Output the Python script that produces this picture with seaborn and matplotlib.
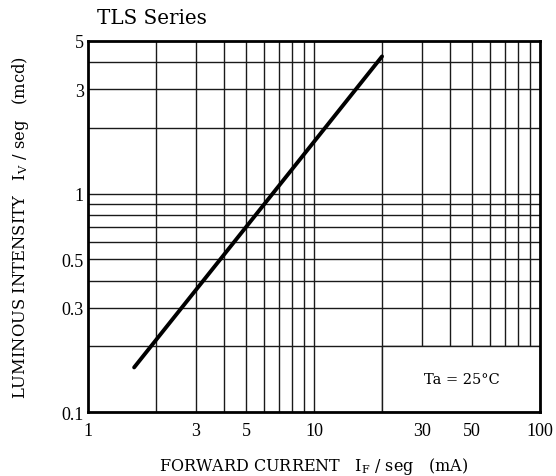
import matplotlib
matplotlib.use("Agg")
import matplotlib.pyplot as plt
from matplotlib.patches import Rectangle
import seaborn as sns
import pandas as pd

# Data
forward_current = [1.6, 20.0]          # mA
luminous_intensity = [0.16, 4.25]      # mcd

x_ticks = [1, 3, 5, 10, 30, 50, 100]
x_ticklabels = ["1", "3", "5", "10", "30", "50", "100"]
y_ticks = [0.1, 0.3, 0.5, 1, 3, 5]
y_ticklabels = ["0.1", "0.3", "0.5", "1", "3", "5"]

x_grid = [2, 3, 4, 5, 6, 7, 8, 9, 10, 20, 30, 40, 50, 60, 70, 80, 90]
y_grid = [0.2, 0.3, 0.4, 0.5, 0.6, 0.7, 0.8, 0.9, 1, 2, 3, 4]

sns.set_theme(style="white")
plt.rcParams["font.family"] = ["DejaVu Serif", "Liberation Serif"]
plt.rcParams["mathtext.fontset"] = "custom"
plt.rcParams["mathtext.rm"] = "DejaVu Serif"
plt.rcParams["mathtext.it"] = "DejaVu Serif"

fig = plt.figure(figsize=(5.56, 4.77), dpi=100)
ax = fig.add_axes([88/556, 1 - 413/477, (540-88)/556, (413-42)/477])

df = pd.DataFrame({"If": forward_current, "Iv": luminous_intensity})

ax.set_xscale("log")
ax.set_yscale("log")
ax.set_xlim(1, 100)
ax.set_ylim(0.1, 5)

gc = "#1a1a1a"
glw = 1.0
for xv in x_grid:
    ax.axvline(xv, color=gc, lw=glw, zorder=1)
for yv in y_grid:
    ax.axhline(yv, color=gc, lw=glw, zorder=1)

# white box for the condition note
ax.add_patch(Rectangle((20, 0.1), 80, 0.1, facecolor="white", edgecolor=gc,
                       lw=glw, zorder=2))
ax.text(45, 0.141, "Ta = 25°C", ha="center", va="center", fontsize=10.5,
        color="black", zorder=3)

sns.lineplot(data=df, x="If", y="Iv", ax=ax, color="black", lw=2.8, zorder=4)

ax.set_xticks(x_ticks)
ax.set_xticklabels(x_ticklabels, fontfamily="Liberation Serif")
ax.set_yticks(y_ticks)
ax.set_yticklabels(y_ticklabels, fontfamily="Liberation Serif")
ax.minorticks_off()
ax.tick_params(axis="both", length=0, labelsize=13, colors="black")
ax.tick_params(axis="x", pad=7)
ax.tick_params(axis="y", pad=3)

for s in ax.spines.values():
    s.set_color("black")
    s.set_linewidth(2)
    s.set_zorder(5)

ax.set_xlabel(r"FORWARD CURRENT   I$_\mathrm{F}$ / seg   (mA)", fontsize=11.5,
              color="black", labelpad=12)
ax.set_ylabel(r"LUMINOUS INTENSITY   I$_\mathrm{V}$ / seg   (mcd)", fontsize=11.8,
              color="black", labelpad=22)

fig.text(97/556, 1 - 19/477, "TLS Series", fontsize=14.3, ha="left", va="center",
         color="black")

fig.savefig("out.png", dpi=100)
